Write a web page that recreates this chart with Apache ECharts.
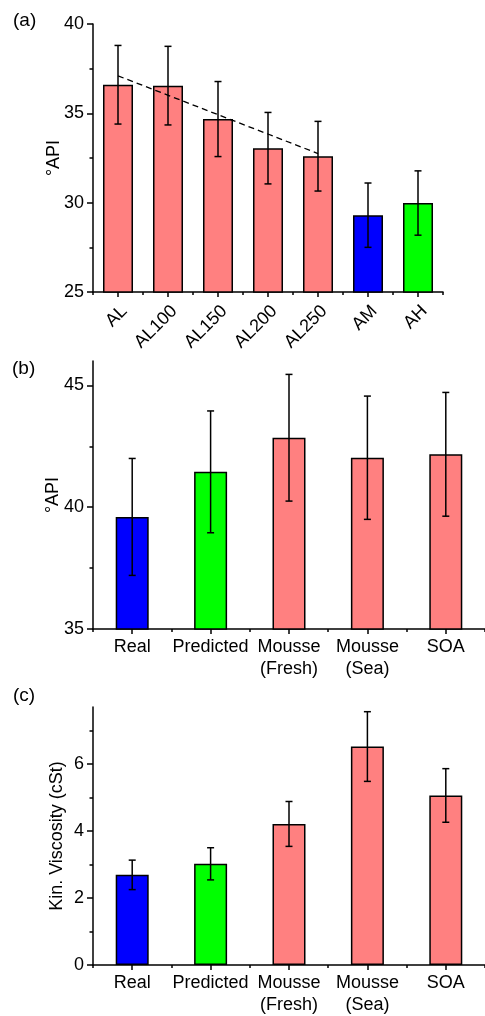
<!DOCTYPE html>
<html><head><meta charset="utf-8">
<script src="https://cdn.jsdelivr.net/npm/echarts@6/dist/echarts.min.js"></script>
<style>html,body{margin:0;padding:0;background:#fff}#c{width:485px;height:1016px}</style>
</head><body><div id="c"></div>
<script>
// ---- data ----
const catA = ['AL', 'AL100', 'AL150', 'AL200', 'AL250', 'AM', 'AH'];
const apiA = [36.6, 36.55, 34.68, 33.05, 32.6, 29.3, 29.98];
const errA = [2.2, 2.2, 2.1, 2.0, 1.95, 1.8, 1.8];
const trendX = [0, 4];
const trendY = [37.1, 32.75];
const ticksA = [25, 30, 35, 40];
const minorA = [27.5, 32.5, 37.5];

const catBC = ['Real', 'Predicted', 'Mousse\n(Fresh)', 'Mousse\n(Sea)', 'SOA'];
const apiB = [39.6, 41.45, 42.85, 42.03, 42.17];
const errB = [2.4, 2.5, 2.6, 2.53, 2.54];
const ticksB = [35, 40, 45];
const minorB = [37.5, 42.5];

const viscC = [2.69, 3.02, 4.21, 6.52, 5.06];
const errC = [0.44, 0.48, 0.67, 1.04, 0.8];
const ticksC = [0, 2, 4, 6];
const minorC = [1, 3, 5, 7];

// ---- styles ----
const SALMON = '#FF8080', BLUE = '#0000FF', GREEN = '#00FF00';
const colorsA = [SALMON, SALMON, SALMON, SALMON, SALMON, BLUE, GREEN];
const colorsBC = [BLUE, GREEN, SALMON, SALMON, SALMON];
const FONT = '"Liberation Sans", Arial, sans-serif';
const FS = 18;
const LS = { color: '#000', width: 1.5 };

function yAxes(g, min, max, ticks, minors, name, nameGap) {
  return [{
    type: 'value', gridIndex: g, min: min, max: max, position: 'left',
    axisLine: { show: true, lineStyle: LS },
    axisTick: { show: true, length: 6, lineStyle: LS, customValues: ticks },
    axisLabel: { customValues: ticks, margin: 9, fontSize: FS, color: '#000', fontFamily: FONT },
    splitLine: { show: false },
    name: name, nameLocation: 'middle', nameGap: nameGap, nameMoveOverlap: false,
    nameTextStyle: { fontSize: FS, color: '#000', fontFamily: FONT }
  }, {
    type: 'value', gridIndex: g, min: min, max: max, position: 'left',
    axisLine: { show: false },
    axisTick: { show: true, length: 3.5, lineStyle: LS, customValues: minors },
    axisLabel: { show: false }, splitLine: { show: false }
  }];
}
function xAxes(g, cats, labelOpt) {
  return [{
    type: 'category', gridIndex: g, data: cats, position: 'bottom',
    axisLine: { show: true, lineStyle: LS },
    axisTick: { show: true, alignWithLabel: true, interval: 0, length: 5, lineStyle: LS },
    axisLabel: Object.assign({ interval: 0, fontSize: FS, color: '#000', fontFamily: FONT }, labelOpt),
    splitLine: { show: false }
  }, {
    type: 'category', gridIndex: g, data: cats, position: 'bottom',
    axisLine: { show: false },
    axisTick: { show: true, alignWithLabel: false, interval: 0, length: 3, lineStyle: LS },
    axisLabel: { show: false }, splitLine: { show: false }
  }];
}
function barSeries(g, vals, colors, bw) {
  return {
    type: 'bar', xAxisIndex: 2 * g, yAxisIndex: 2 * g, barWidth: bw,
    data: vals.map((v, i) => ({ value: v, itemStyle: { color: colors[i] } })),
    itemStyle: { borderColor: '#000', borderWidth: 1.5 }, z: 2, silent: true
  };
}
function errSeries(g, vals, errs) {
  return {
    type: 'custom', xAxisIndex: 2 * g, yAxisIndex: 2 * g, z: 10, silent: true,
    data: vals.map((v, i) => [i, v - errs[i], v + errs[i]]),
    encode: { x: 0, y: [1, 2] },
    renderItem: function (params, api) {
      const lo = api.coord([api.value(0), api.value(1)]);
      const hi = api.coord([api.value(0), api.value(2)]);
      const w = 3.5;
      const st = { stroke: '#000', lineWidth: 1.5 };
      return {
        type: 'group', children: [
          { type: 'line', shape: { x1: lo[0], y1: lo[1], x2: hi[0], y2: hi[1] }, style: st },
          { type: 'line', shape: { x1: lo[0] - w, y1: lo[1], x2: lo[0] + w, y2: lo[1] }, style: st },
          { type: 'line', shape: { x1: hi[0] - w, y1: hi[1], x2: hi[0] + w, y2: hi[1] }, style: st }
        ]
      };
    }
  };
}

const chart = echarts.init(document.getElementById('c'), null, { renderer: 'canvas' });
const option = {
  backgroundColor: '#fff',
  animation: false,
  textStyle: { fontFamily: FONT },
  grid: [
    { left: 93, top: 24, width: 350, height: 268 },
    { left: 93, top: 361, width: 400, height: 268 },
    { left: 93, top: 707, width: 400, height: 259 }
  ],
  graphic: [
    { type: 'text', left: 13, top: 11, style: { text: '(a)', fontSize: 19, fill: '#000', fontFamily: FONT } },
    { type: 'text', left: 12, top: 359, style: { text: '(b)', fontSize: 19, fill: '#000', fontFamily: FONT } },
    { type: 'text', left: 13, top: 686, style: { text: '(c)', fontSize: 19, fill: '#000', fontFamily: FONT } }
  ],
  xAxis: [].concat(
    xAxes(0, catA, { rotate: 45, align: 'right', verticalAlign: 'top', margin: 10 }),
    xAxes(1, catBC, { margin: 7, lineHeight: 22 }),
    xAxes(2, catBC, { margin: 7, lineHeight: 22 })
  ),
  yAxis: [].concat(
    yAxes(0, 25, 40, ticksA, minorA, '°API', 30),
    yAxes(1, 35, 46, ticksB, minorB, '°API', 31),
    yAxes(2, 0, 7.7, ticksC, minorC, 'Kin. Viscosity (cSt)', 27)
  ),
  series: [
    barSeries(0, apiA, colorsA, 30),
    {
      type: 'line', xAxisIndex: 0, yAxisIndex: 0, z: 5, silent: true,
      data: trendX.map((x, i) => [x, trendY[i]]),
      symbol: 'none',
      lineStyle: { color: '#000', width: 1.3, type: [6, 4] }
    },
    errSeries(0, apiA, errA),
    barSeries(1, apiB, colorsBC, 33),
    errSeries(1, apiB, errB),
    barSeries(2, viscC, colorsBC, 33),
    errSeries(2, viscC, errC)
  ]
};
chart.setOption(option);
</script>
</body></html>
